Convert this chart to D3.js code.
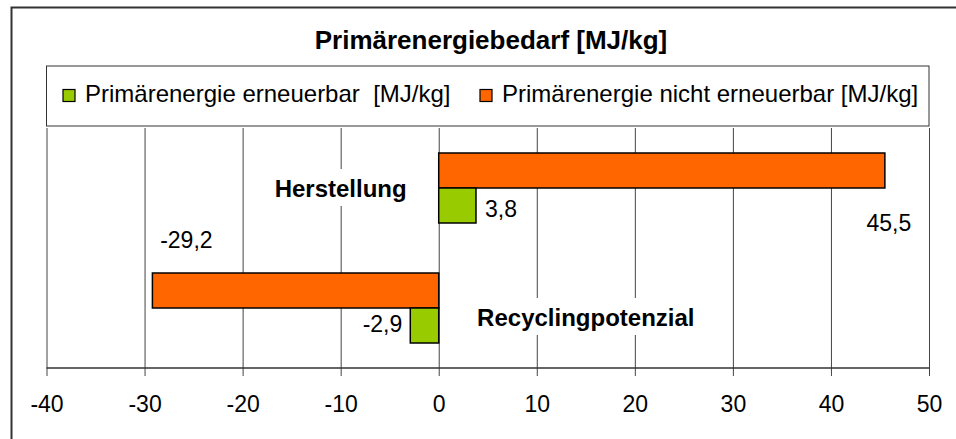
<!DOCTYPE html>
<html>
<head>
<meta charset="utf-8">
<script src="https://cdn.jsdelivr.net/npm/d3@7"></script>
<style>
body { margin: 0; background: #fff; }
text { font-family: "Liberation Sans", Arial, sans-serif; fill: #000; }
</style>
</head>
<body>
<script>
// data
const categories = ["Herstellung", "Recyclingpotenzial"];
const erneuerbar = [3.8, -2.9];
const nichtErneuerbar = [45.5, -29.2];
const seriesNames = ["Primärenergie erneuerbar  [MJ/kg]", "Primärenergie nicht erneuerbar [MJ/kg]"];
const seriesColors = ["#99cc00", "#ff6600"];
const tickValues = [-40, -30, -20, -10, 0, 10, 20, 30, 40, 50];

const w = 956, h = 439;
const deLocale = d3.formatLocale({ decimal: ",", thousands: ".", grouping: [3], currency: ["", " €"], minus: "-" });
const fmt = deLocale.format(".1f");

const svg = d3.select("body").append("svg")
  .attr("width", w)
  .attr("height", h)
  .style("display", "block");

// outer chart frame (runs off the picture at right/bottom)
svg.append("rect")
  .attr("x", 11.5).attr("y", 7.5)
  .attr("width", 960).attr("height", 470)
  .attr("fill", "none")
  .attr("stroke", "#333")
  .attr("stroke-width", 2);

svg.append("text")
  .attr("x", 491).attr("y", 49)
  .attr("text-anchor", "middle")
  .style("font-size", "26px")
  .style("font-weight", "bold")
  .text("Primärenergiebedarf [MJ/kg]");

const plotTop = 128, plotBottom = 368, plotLeft = 46.5, plotRight = 929;

const x = d3.scaleLinear().domain([-40, 50]).range([plotLeft, plotRight]);
const y = d3.scaleBand().domain(categories).range([plotTop, plotBottom])
  .paddingInner(0.4167).paddingOuter(0.2083);
// orange sits above green in each group
const ySub = d3.scaleBand().domain([1, 0]).range([0, y.bandwidth()]);

// legend
const legend = svg.append("g");
legend.append("rect")
  .attr("x", plotLeft).attr("y", 66)
  .attr("width", plotRight - plotLeft).attr("height", 60)
  .attr("fill", "#fff")
  .attr("stroke", "#333")
  .attr("stroke-width", 1);
const legendX = [63, 480];
seriesNames.forEach((name, i) => {
  legend.append("rect")
    .attr("x", legendX[i]).attr("y", 89.5)
    .attr("width", 12).attr("height", 12)
    .attr("fill", seriesColors[i])
    .attr("stroke", "#000")
    .attr("stroke-width", 1.2);
  legend.append("text")
    .attr("x", legendX[i] + 22).attr("y", 102)
    .style("font-size", "24px")
    .style("white-space", "pre")
    .attr("xml:space", "preserve")
    .text(name);
});

// grid + axis
const axis = d3.axisBottom(x)
  .tickValues(tickValues)
  .tickSize(plotBottom - plotTop + 8)
  .tickFormat(deLocale.format("d"));
const ax = svg.append("g")
  .attr("transform", `translate(0,${plotTop})`)
  .call(axis);
ax.select(".domain").remove();
ax.selectAll(".tick line").attr("stroke", "#444").attr("stroke-width", 1);
ax.selectAll(".tick text")
  .attr("y", 0)
  .attr("dy", 0)
  .attr("transform", `translate(0,${412 - plotTop})`)
  .style("font-size", "23px")
  .style("font-family", "'Liberation Sans', Arial, sans-serif");

svg.append("line")
  .attr("x1", plotLeft).attr("x2", plotRight)
  .attr("y1", plotBottom).attr("y2", plotBottom)
  .attr("stroke", "#333")
  .attr("stroke-width", 1.5);

// category labels with white backing
const catLabelAt = [-10, 15];
const catLabelDy = [9, 18];
categories.forEach((c, i) => {
  const g = svg.append("g");
  const t = g.append("text")
    .attr("x", x(catLabelAt[i]))
    .attr("y", y(c) + y.bandwidth() / 2 + catLabelDy[i])
    .attr("text-anchor", "middle")
    .style("font-size", "24px")
    .style("font-weight", "bold")
    .text(c);
  const bb = t.node().getBBox();
  g.insert("rect", "text")
    .attr("x", bb.x - 4).attr("y", bb.y - 6)
    .attr("width", bb.width + 8).attr("height", bb.height + 10)
    .attr("fill", "#fff");
});

// bars
const rows = [];
categories.forEach((c, i) => {
  rows.push({ cat: c, s: 1, v: nichtErneuerbar[i] });
  rows.push({ cat: c, s: 0, v: erneuerbar[i] });
});

svg.selectAll("rect.bar")
  .data(rows)
  .enter()
  .append("rect")
  .attr("class", "bar")
  .attr("x", d => x(Math.min(0, d.v)))
  .attr("width", d => Math.abs(x(d.v) - x(0)))
  .attr("y", d => y(d.cat) + ySub(d.s))
  .attr("height", ySub.bandwidth())
  .attr("fill", d => seriesColors[d.s])
  .attr("stroke", "#000")
  .attr("stroke-width", 1.5);

// data labels (placed like in the original)
const labelOffset = {
  "Herstellung-1": { dx: 4, dy: 43, anchor: "middle", ref: "bottom" },
  "Herstellung-0": { dx: 9, dy: -6, anchor: "start", ref: "bottom" },
  "Recyclingpotenzial-1": { dx: 34, dy: -25, anchor: "middle", ref: "top" },
  "Recyclingpotenzial-0": { dx: -8, dy: -11, anchor: "end", ref: "bottom" }
};

svg.selectAll("text.val")
  .data(rows)
  .enter()
  .append("text")
  .attr("class", "val")
  .attr("x", d => x(d.v) + labelOffset[d.cat + "-" + d.s].dx)
  .attr("y", d => {
    const o = labelOffset[d.cat + "-" + d.s];
    const y0 = y(d.cat) + ySub(d.s);
    return (o.ref === "top" ? y0 : y0 + ySub.bandwidth()) + o.dy;
  })
  .attr("text-anchor", d => labelOffset[d.cat + "-" + d.s].anchor)
  .style("font-size", "23px")
  .text(d => fmt(d.v));
</script>
</body>
</html>
